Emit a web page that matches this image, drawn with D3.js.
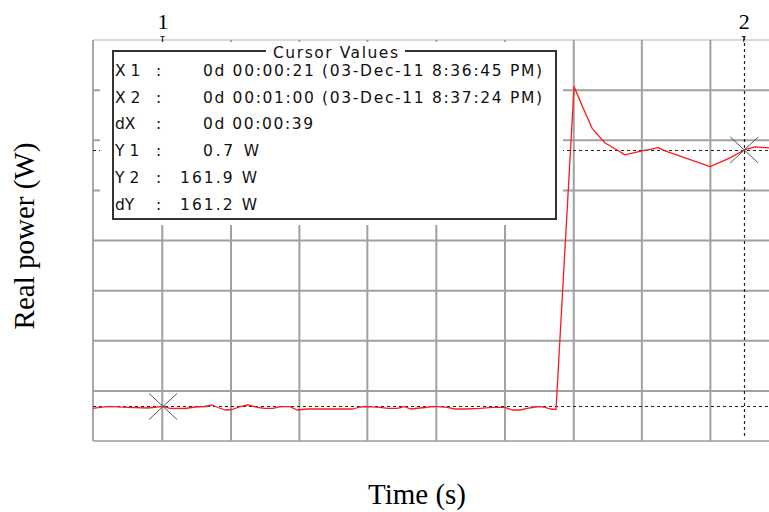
<!DOCTYPE html>
<html><head><meta charset="utf-8">
<script src="https://cdn.jsdelivr.net/npm/d3@7"></script>
<style>body{margin:0;background:#fff}svg{display:block}</style>
</head><body><svg id="c" width="769" height="512"></svg>
<script>
// ---- data (time in s, real power in W) ----
const times = [16.30,16.77,17.31,17.64,18.58,19.99,21.00,21.47,22.47,23.15,23.82,24.29,24.69,25.16,25.63,26.17,26.70,27.37,27.84,28.38,28.85,29.52,29.99,30.66,32.21,33.75,34.22,34.69,35.56,36.10,36.70,37.24,37.58,37.91,38.58,39.05,39.39,40.06,40.60,41.33,42.27,43.08,43.95,44.42,44.96,45.43,45.97,46.30,46.64,46.97,47.37,48.58,49.19,49.79,50.66,51.47,52.00,53.14,53.55,54.22,54.69,57.71,59.05,60.00,60.73,61.67,62.40];
const power = [-0.45,0.18,0.56,0.56,0.18,-0.26,0.70,-0.45,-0.57,0.37,0.68,1.63,0.06,-1.52,-1.20,0.56,1.63,0.06,-0.45,-0.45,0.56,0.56,-1.52,-0.89,-0.89,-0.89,0.37,0.56,0.18,-0.45,-0.45,0.56,-0.89,-0.57,0.06,0.56,0.56,0.18,-0.89,-0.89,-0.45,0.18,0.18,-1.52,-1.52,-0.45,0.37,0.56,0.18,-0.89,-1.20,201.7,188.3,175.5,166.3,161.9,158.8,161.3,161.9,163.4,161.3,151.4,156.9,161.9,163.8,163.2,162.9];
const cyanTimes = [17.45,20.95,23.85,28.85,34.69,39.20,45.90,53.45];
const cyanPower = [0.6,0.7,0.7,0.6,0.6,0.6,0.6,161.9];
const gridTimes = [20.95,25.56,30.15,34.71,39.34,43.95,48.56,53.13,57.73];
const gridPower = [10.5,42,73.5,105,136.5,168,199.5];
const cursorNames = ["1","2"];
const cursorTimes = [21,60];
const cursorPower = [0.7,161.9];
const boxTitle = "Cursor Values";
const boxLabels = ["X 1","X 2","dX","Y 1","Y 2","dY"];
const boxValues = ["0d 00:00:21 (03-Dec-11 8:36:45 PM)","0d 00:01:00 (03-Dec-11 8:37:24 PM)","0d 00:00:39","0.7 W","161.9 W","161.2 W"];
const xTitle = "Time (s)";
const yTitle = "Real power (W)";

// ---- drawing ----
const svg = d3.select("#c");
svg.append("rect").attr("width",769).attr("height",512).attr("fill","#fff");
const x = d3.scaleLinear().domain([16.3,62.4]).range([93,780]);
const y = d3.scaleLinear().domain([-21,231]).range([441,40]);
const boxFont = "'DejaVu Sans',Verdana,sans-serif";

const g = svg.append("g");
// borders
g.append("line").attr("x1",x(16.3)).attr("x2",780).attr("y1",y(231)).attr("y2",y(231)).attr("stroke","#b4b4b4").attr("stroke-width",1.2);
g.append("line").attr("x1",x(16.3)).attr("x2",780).attr("y1",y(-21)).attr("y2",y(-21)).attr("stroke","#b4b4b4").attr("stroke-width",2);
g.append("line").attr("x1",x(16.3)).attr("x2",x(16.3)).attr("y1",y(231)).attr("y2",y(-21)).attr("stroke","#a8a8a8").attr("stroke-width",2);
// grid
g.selectAll(".gx").data(gridTimes).join("line")
  .attr("x1",d=>x(d)).attr("x2",d=>x(d)).attr("y1",y(231)).attr("y2",y(-21))
  .attr("stroke","#a0a0a0").attr("stroke-width",2);
g.selectAll(".gy").data(gridPower).join("line")
  .attr("x1",x(16.3)).attr("x2",780).attr("y1",d=>y(d)).attr("y2",d=>y(d))
  .attr("stroke","#a0a0a0").attr("stroke-width",2);

// cursor horizontal dashed lines
g.selectAll(".ch").data(cursorPower).join("line")
  .attr("x1",x(16.3)).attr("x2",780).attr("y1",d=>Math.round(y(d))+0.5).attr("y2",d=>Math.round(y(d))+0.5)
  .attr("stroke","#222").attr("stroke-width",1.2).attr("stroke-dasharray","3,3");
// cursor 2 vertical dashed line
g.append("line").attr("x1",Math.round(x(cursorTimes[1]))+0.5).attr("x2",Math.round(x(cursorTimes[1]))+0.5)
  .attr("y1",37).attr("y2",438).attr("stroke","#222").attr("stroke-width",1.2).attr("stroke-dasharray","3,3");

// cyan trace fragments
g.selectAll(".cy").data(cyanTimes).join("line")
  .attr("x1",d=>x(d)-2.5).attr("x2",d=>x(d)+2.5)
  .attr("y1",(d,i)=>y(cyanPower[i])).attr("y2",(d,i)=>y(cyanPower[i]))
  .attr("stroke","#2fd8e0").attr("stroke-width",1.6);

// red trace
const pts = times.map((t,i)=>[t,power[i]]);
g.append("path").datum(pts)
  .attr("d",d3.line().x(d=>x(d[0])).y(d=>y(d[1])))
  .attr("fill","none").attr("stroke","#ff1a1a").attr("stroke-width",1.3).attr("stroke-linejoin","round");

// cursor X markers
cursorTimes.forEach((t,i)=>{
  const cx = x(t), cy = y(cursorPower[i]);
  g.append("line").attr("x1",cx-14).attr("y1",cy-13).attr("x2",cx+14).attr("y2",cy+13).attr("stroke","#555").attr("stroke-width",1);
  g.append("line").attr("x1",cx-14).attr("y1",cy+13).attr("x2",cx+14).attr("y2",cy-13).attr("stroke","#555").attr("stroke-width",1);
  g.append("line").attr("x1",cx-0.5).attr("x2",cx-0.5).attr("y1",36).attr("y2",42).attr("stroke","#333").attr("stroke-width",1.2);
  g.append("line").attr("x1",cx-2.5).attr("x2",cx+1.5).attr("y1",36.5).attr("y2",36.5).attr("stroke","#333").attr("stroke-width",1);
  svg.append("text").attr("x",cx).attr("y",29).attr("text-anchor","middle")
    .attr("font-family","'Liberation Serif','Times New Roman',serif").attr("font-size",22).attr("fill","#000")
    .text(cursorNames[i]);
});

// cursor values box
const box = svg.append("g");
box.append("rect").attr("x",100).attr("y",42).attr("width",463).attr("height",183).attr("fill","#fff");
box.append("rect").attr("x",113).attr("y",51).attr("width",443).attr("height",168)
  .attr("fill","none").attr("stroke","#333").attr("stroke-width",2);
box.append("rect").attr("x",266).attr("y",47).attr("width",139).attr("height",8).attr("fill","#fff");
box.append("text").attr("x",273).attr("y",57.5).attr("font-family",boxFont)
  .attr("font-size",15.5).attr("fill","#111").attr("textLength",125).attr("lengthAdjust","spacing").text(boxTitle);
const valX = [203,203,203,203,180,180];
const valLen = [339,339,110,56,77,77];
boxLabels.forEach((lab,i)=>{
  const by = 76 + 26.7*i;
  box.append("text").attr("x",115).attr("y",by).attr("font-family",boxFont)
    .attr("font-size",15.5).attr("fill","#111").text(lab);
  box.append("text").attr("x",156).attr("y",by).attr("font-family",boxFont)
    .attr("font-size",15.5).attr("fill","#111").text(":");
  box.append("text").attr("x",valX[i]).attr("y",by).attr("font-family",boxFont)
    .attr("font-size",15.5).attr("fill","#111").attr("textLength",valLen[i]).attr("lengthAdjust","spacing").text(boxValues[i]);
});

// axis titles
svg.append("text").attr("x",417).attr("y",504).attr("text-anchor","middle")
  .attr("font-family","'Liberation Serif','Times New Roman',serif").attr("font-size",29).attr("fill","#000").text(xTitle);
svg.append("text").attr("transform","translate(34,236) rotate(-90)").attr("text-anchor","middle")
  .attr("font-family","'Liberation Serif','Times New Roman',serif").attr("font-size",29).attr("fill","#000").text(yTitle);
</script></body></html>
